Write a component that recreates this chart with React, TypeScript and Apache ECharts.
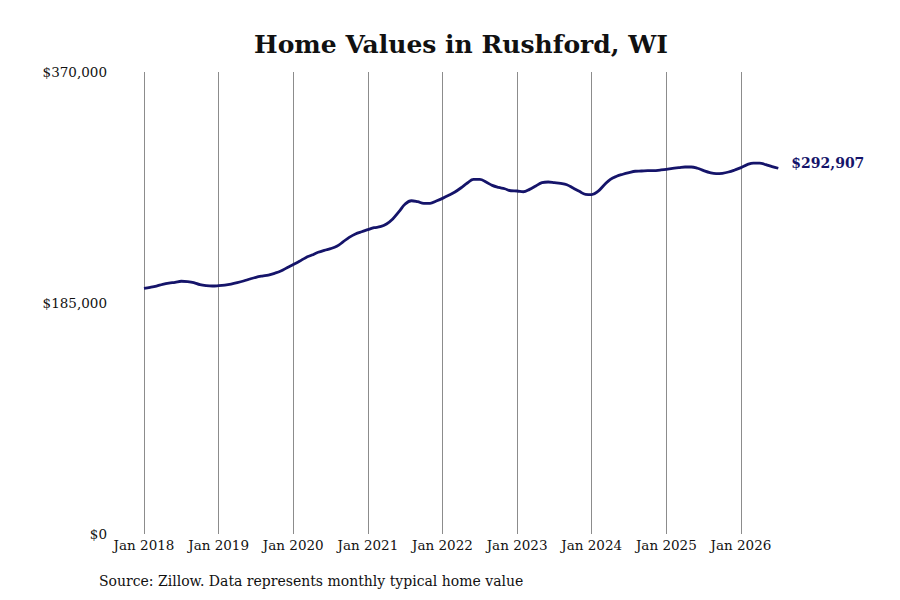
import React, { useEffect, useRef } from 'react';
import * as echarts from 'echarts';

const MONTH_NAMES = ['Jan', 'Feb', 'Mar', 'Apr', 'May', 'Jun', 'Jul', 'Aug', 'Sep', 'Oct', 'Nov', 'Dec'];
const START_YEAR = 2018;

// monthly typical home value, Jan 2018 .. Jul 2026
const values2018 = [196800, 197600, 198600, 200000, 201000, 201600, 202400, 202100, 201300, 199700, 198900, 198600];
const values2019 = [198900, 199400, 200200, 201300, 202600, 204200, 205600, 206600, 207400, 208800, 210600, 213300];
const values2020 = [215800, 218400, 221300, 223400, 225600, 227200, 228500, 230400, 233900, 237600, 240300, 242100];
const values2021 = [243700, 245300, 246100, 248300, 252300, 258100, 264300, 266900, 266100, 264800, 264800, 266700];
const values2022 = [268800, 271200, 273900, 277300, 281100, 284000, 284000, 281900, 279200, 277600, 276500, 274900];
const values2023 = [274700, 274100, 276000, 278700, 281400, 281900, 281400, 280800, 279700, 277100, 274400, 272000];
const values2024 = [271800, 274400, 279500, 284000, 286500, 288100, 289400, 290500, 290700, 291000, 291000, 291500];
const values2025 = [292100, 292900, 293400, 293900, 293900, 292900, 291000, 289400, 288600, 288900, 289900, 291500];
const values2026 = [293400, 295800, 297100, 297100, 295800, 294200, 292907];

const yTicks = [0, 185000, 370000];

const values = [
  ...values2018, ...values2019, ...values2020, ...values2021, ...values2022,
  ...values2023, ...values2024, ...values2025, ...values2026,
];
const categories = values.map((_, i) => `${MONTH_NAMES[i % 12]} ${START_YEAR + Math.floor(i / 12)}`);

const FONT = "'DejaVu Serif', serif";
const LINE_COLOR = '#15146a';
const money = (v: number) => '$' + v.toLocaleString('en-US');

const App: React.FC = () => {
  const chartRef = useRef<HTMLDivElement>(null);

  useEffect(() => {
    if (!chartRef.current) return;
    const chart = echarts.init(chartRef.current, undefined, { renderer: 'svg' });

    const option: echarts.EChartsOption = {
      animation: false,
      backgroundColor: '#ffffff',
      textStyle: { fontFamily: FONT },
      graphic: [
        {
          type: 'text',
          x: 461,
          y: 44,
          style: {
            text: 'Home Values in Rushford, WI',
            font: `bold 25px ${FONT}`,
            fill: '#111',
            align: 'center',
            verticalAlign: 'middle',
          },
        },
        {
          type: 'text',
          left: 99,
          top: 574,
          style: {
            text: 'Source: Zillow. Data represents monthly typical home value',
            font: `14px ${FONT}`,
            fill: '#111',
          },
        },
      ],
      grid: {
        left: 144,
        right: 900 - 778.3,
        top: 72,
        bottom: 66,
        containLabel: false,
      },
      xAxis: {
        type: 'category',
        boundaryGap: false,
        data: categories,
        axisLine: { show: false },
        axisTick: { show: false },
        axisLabel: {
          interval: (i: number) => i % 12 === 0,
          color: '#111',
          fontFamily: FONT,
          fontSize: 13.5,
          margin: 4,
        },
        splitLine: {
          show: true,
          interval: (i: number) => i % 12 === 0,
          lineStyle: { color: '#8c8c8c', width: 1 },
        },
      },
      yAxis: {
        type: 'value',
        min: yTicks[0],
        max: yTicks[yTicks.length - 1],
        interval: yTicks[1] - yTicks[0],
        axisLine: { show: false },
        axisTick: { show: false },
        splitLine: { show: false },
        axisLabel: {
          color: '#111',
          fontFamily: FONT,
          fontSize: 13.5,
          margin: 37,
          formatter: (v: number) => money(v),
        },
      },
      series: [
        {
          type: 'line',
          data: values,
          smooth: 0.4,
          symbol: 'none',
          lineStyle: { color: LINE_COLOR, width: 2.8 },
          endLabel: {
            show: true,
            formatter: () => money(values[values.length - 1]),
            color: LINE_COLOR,
            fontFamily: FONT,
            fontWeight: 'bold',
            fontSize: 14,
            distance: 13,
            offset: [0, -5],
          },
        },
      ],
    };

    chart.setOption(option);
    return () => chart.dispose();
  }, []);

  return (
    <div
      ref={chartRef}
      style={{ position: 'fixed', left: 0, top: 0, width: 900, height: 600 }}
    />
  );
};

export default App;
